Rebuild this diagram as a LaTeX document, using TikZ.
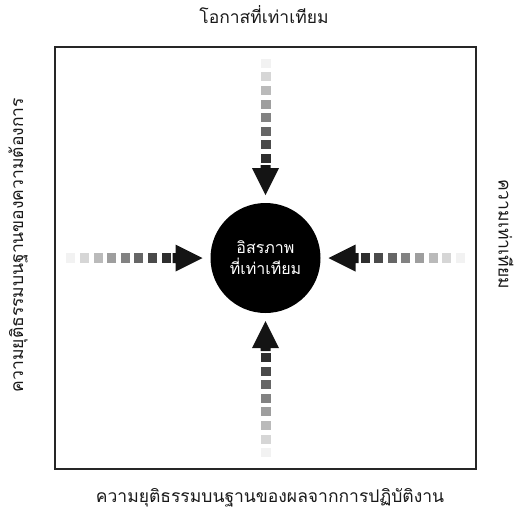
\documentclass[tikz,border=0pt]{standalone}
\usepackage{fontspec}
\newfontfamily\thaifont[Script=Thai]{Loma}
\newcommand\fairarrow[1]{%
  \begin{scope}[shift={(c.center)}, rotate=#1]
    \foreach \k in {0,...,7} {
      \pgfmathsetmacro\s{95+(7-\k)*13.6}
      \pgfmathsetmacro\e{\s+9}
      \pgfmathsetmacro\g{5+\k*11}
      \fill[black!\g] (\s,-5) rectangle (\e,5);
    }
    \fill[arrowhead] (63,0) -- (90,-13.5) -- (90,-5) -- (93,-5) -- (93,5) -- (90,5) -- (90,13.5) -- cycle;
  \end{scope}}
\begin{document}
\begin{tikzpicture}[x=1pt,y=-1pt,
  lbl/.style={font=\thaifont\fontsize{17.5}{20}\selectfont, text=black!90, inner sep=0pt},
  frame/.style={draw=black!85, line width=2pt},
  arrowhead/.style={fill=black!92},
  hub/.style={circle, fill=black, minimum size=110pt, inner sep=0pt, text=white, align=center, font=\thaifont\fontsize{16}{21}\selectfont}]
\useasboundingbox (0,0) rectangle (516,520);
\draw[frame] (55,47) rectangle (476,469);
\node[hub] (c) at (265.5,258) {อิสรภาพ\\ที่เท่าเทียม};
\fairarrow{90}
\fairarrow{180}
\fairarrow{270}
\fairarrow{0}
\node[lbl] (top) at (264,15) {โอกาสที่เท่าเทียม};
\node[lbl] (bot) at (270,498) {ความยุติธรรมบนฐานของผลจากการปฏิบัติงาน};
\node[lbl, rotate=90] (lft) at (18,245) {ความยุติธรรมบนฐานของความต้องการ};
\node[lbl, rotate=-90] (rgt) at (506,234) {ความเท่าเทียม};
\end{tikzpicture}
\end{document}
